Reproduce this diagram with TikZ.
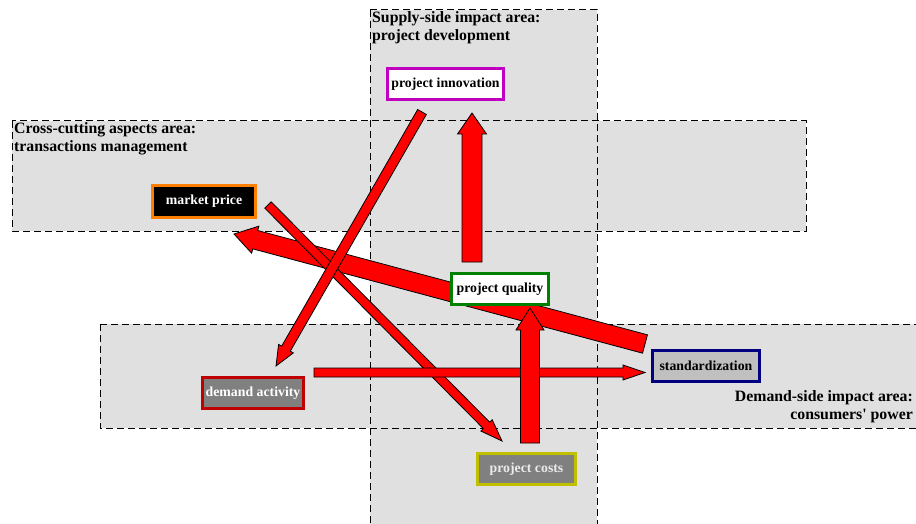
\documentclass[tikz,border=0pt]{standalone}
\usepackage{fontspec}
\setmainfont{Liberation Serif}
\usepackage{xcolor}
\usetikzlibrary{calc}
\definecolor{areagray}{RGB}{224,224,224}
\definecolor{arrowred}{RGB}{255,0,0}
\definecolor{innovborder}{RGB}{192,0,192}
\definecolor{priceborder}{RGB}{255,128,0}
\definecolor{qualityborder}{RGB}{0,128,0}
\definecolor{stdborder}{RGB}{0,0,128}
\definecolor{demandborder}{RGB}{192,0,0}
\definecolor{costsborder}{RGB}{192,192,0}
\pgfdeclarelayer{areas}
\pgfdeclarelayer{arrows}
\pgfsetlayers{areas,arrows,main}

% block arrow: tail, tip, half body width, half head width, head length
\newcommand{\blockarrow}[5]{%
  \coordinate (ba-base) at ($(#2)!#5!(#1)$);
  \filldraw[redarrow] ($(#1)!#3!90:(#2)$) -- ($(ba-base)!#3!90:(#2)$)
    -- ($(ba-base)!#4!90:(#2)$) -- (#2) -- ($(ba-base)!#4!-90:(#2)$)
    -- ($(ba-base)!#3!-90:(#2)$) -- ($(#1)!#3!-90:(#2)$) -- cycle;}

\begin{document}
\begin{tikzpicture}[x=1pt, y=-1pt,
    box/.style={draw, line width=3pt, minimum height=31pt, inner sep=3pt,
      font=\fontsize{13.8}{16}\selectfont\bfseries},
    arealabel/.style={inner sep=1pt, align=left,
      font=\fontsize{15.8}{18}\selectfont\bfseries},
    areaedge/.style={draw=black, line width=1pt, dash pattern=on 7pt off 4pt},
    redarrow/.style={fill=arrowred, draw=black, line width=0.8pt, line join=miter}]
    \useasboundingbox (0,0) rectangle (916,524);
    \clip (0,0) rectangle (916,524);

    % Impact areas
    \begin{pgfonlayer}{areas}
    \fill[areagray] (370,10) rectangle (597,540); % supply side
    \fill[areagray] (12,121) rectangle (806,231); % cross-cutting
    \fill[areagray] (100,324) rectangle (940,428); % demand side
    \draw[areaedge] (370,10) rectangle (597,540);
    \draw[areaedge] (12,121) rectangle (806,231);
    \draw[areaedge] (100,324) rectangle (940,428);
    \end{pgfonlayer}

    % Area labels
    \node[arealabel, anchor=north west] (supplylabel) at (371,10)
      {Supply-side impact area:\\project development};
    \node[arealabel, anchor=north west] (crosslabel) at (13,121)
      {Cross-cutting aspects area:\\transactions management};
    \node[arealabel, anchor=north east, align=right] (demandlabel) at (914,389)
      {Demand-side impact area:\\consumers\textquotesingle\ power};

    % Factors
    \node[box, draw=innovborder, fill=white, minimum width=116pt] (innovation) at (445.5,84) {project innovation};
    \node[box, draw=priceborder, fill=black, text=white, minimum width=103pt] (price) at (204,201.5) {market price};
    \node[box, draw=qualityborder, fill=white, minimum width=97pt] (quality) at (500,289) {project quality};
    \node[box, draw=stdborder, fill={rgb,255:red,192;green,192;blue,192}, minimum width=107pt] (std) at (706,365.5) {standardization};
    \node[box, draw=demandborder, fill={rgb,255:red,128;green,128;blue,128}, text=white, minimum width=101pt] (demand) at (253,393) {demand activity};
    \node[box, draw=costsborder, fill={rgb,255:red,128;green,128;blue,128}, text={rgb,255:red,235;green,235;blue,235}, minimum width=98pt] (costs) at (526.5,469) {project costs};

    % Arrow ends
    \coordinate (innov-out) at (422,112);
    \coordinate (demand-in) at (276,366);
    \coordinate (quality-up) at (472,262);
    \coordinate (innov-in) at (472,113);
    \coordinate (std-out) at (645,344);
    \coordinate (price-in) at (234,234);
    \coordinate (price-out) at (268,205);
    \coordinate (costs-in) at (502,441);
    \coordinate (demand-out) at (314,372.5);
    \coordinate (std-in) at (645,372.5);
    \coordinate (costs-up) at (530,443);
    \coordinate (quality-in) at (530,308);

    % Influence arrows
    \begin{pgfonlayer}{arrows}
    \blockarrow{std-out}{price-in}{9.5pt}{14pt}{22pt}
    \blockarrow{price-out}{costs-in}{4.5pt}{8pt}{22pt}
    \blockarrow{innov-out}{demand-in}{5pt}{8.5pt}{20pt}
    \blockarrow{quality-up}{innov-in}{10pt}{14.5pt}{21pt}
    \blockarrow{demand-out}{std-in}{4.5pt}{7.5pt}{22pt}
    \blockarrow{costs-up}{quality-in}{9.5pt}{14pt}{22pt}
    \end{pgfonlayer}

\end{tikzpicture}
\end{document}
